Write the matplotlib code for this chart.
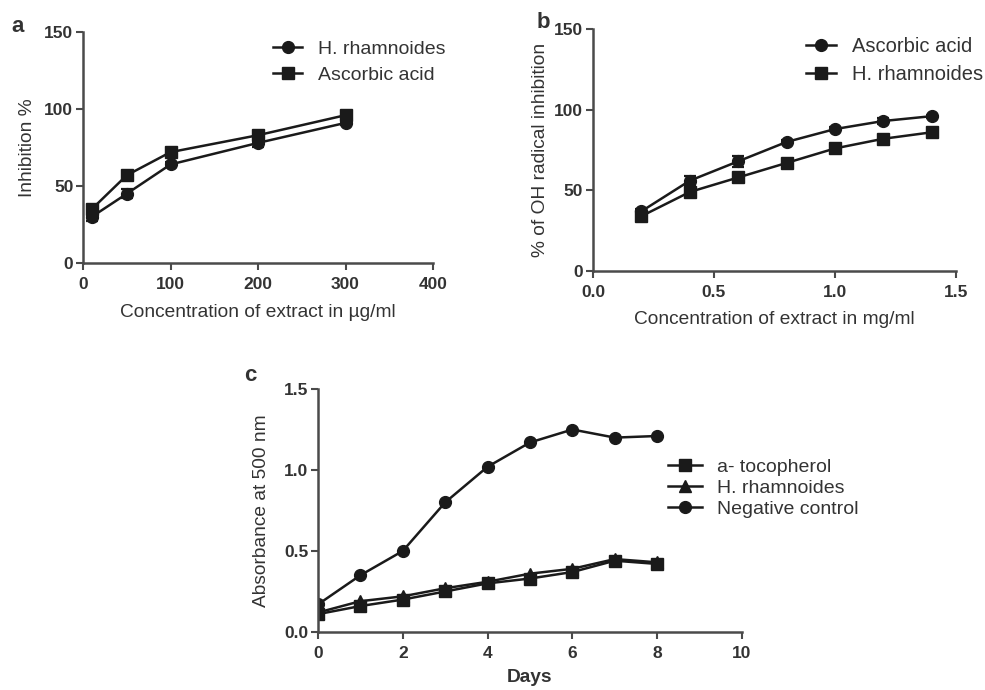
import matplotlib
matplotlib.use("Agg")
import matplotlib.pyplot as plt

plt.rcParams['font.family'] = ['Liberation Sans', 'DejaVu Sans']

# Panel a
a_conc = [10, 50, 100, 200, 300]
a_hr = [30, 45, 64, 78, 91]
a_hr_err = [3, 3, 1.5, 2.5, 1.5]
a_asc = [35, 57, 72, 83, 96]
a_asc_err = [2.5, 3, 2, 2.5, 2.5]

# Panel b
b_conc = [0.2, 0.4, 0.6, 0.8, 1.0, 1.2, 1.4]
b_asc = [37, 56, 68, 80, 88, 93, 96]
b_asc_err = [1.5, 3, 3.5, 1.5, 1, 2, 1]
b_hr = [34, 49, 58, 67, 76, 82, 86]
b_hr_err = [2, 2, 2, 1.5, 1.5, 1.5, 2.5]

# Panel c
c_days = [0, 1, 2, 3, 4, 5, 6, 7, 8]
c_toco = [0.11, 0.16, 0.20, 0.25, 0.30, 0.33, 0.37, 0.44, 0.42]
c_hr = [0.12, 0.19, 0.22, 0.27, 0.31, 0.36, 0.39, 0.45, 0.43]
c_neg = [0.17, 0.35, 0.50, 0.80, 1.02, 1.17, 1.25, 1.20, 1.21]

TXT = '#333333'
AX = '#4a4a4a'
LC = '#1a1a1a'
LBL = 13.8
TK = 12.5
LG = 14

fig = plt.figure(figsize=(9.85, 6.9), dpi=100)
fig.patch.set_facecolor('white')


def style(ax):
    for s in ['top', 'right']:
        ax.spines[s].set_visible(False)
    for s in ['left', 'bottom']:
        ax.spines[s].set_linewidth(1.8)
        ax.spines[s].set_color(AX)
    ax.tick_params(direction='out', length=5, width=1.5, color=AX,
                   labelsize=TK, labelcolor=TXT, pad=2)
    ax.tick_params(axis='x', pad=5)
    for lbl in ax.get_xticklabels() + ax.get_yticklabels():
        lbl.set_fontweight('bold')


kw = dict(color=LC, lw=1.8, ms=8.5, capsize=4, elinewidth=1.6, capthick=1.6)

# a
axa = fig.add_axes([0.0843, 0.6188, 0.3553, 0.3348])
e1 = axa.errorbar(a_conc, a_hr, yerr=a_hr_err, marker='o', label='H. rhamnoides', **kw)
e2 = axa.errorbar(a_conc, a_asc, yerr=a_asc_err, marker='s', label='Ascorbic acid', **kw)
axa.set_xlim(0, 400)
axa.set_ylim(0, 150)
axa.set_xticks([0, 100, 200, 300, 400])
axa.set_yticks([0, 50, 100, 150])
style(axa)
axa.set_xlabel('Concentration of extract in µg/ml', fontsize=LBL, color=TXT, labelpad=9)
axa.set_ylabel('Inhibition %', fontsize=LBL, color=TXT, labelpad=6)
axa.legend(handles=[e1[0], e2[0]], labels=['H. rhamnoides', 'Ascorbic acid'],
           loc='upper right', bbox_to_anchor=(1.085, 1.04), frameon=False,
           fontsize=LG, handlelength=1.5, handletextpad=0.8, labelspacing=0.45,
           labelcolor=TXT)
fig.text(0.012, 0.953, 'a', fontsize=16, fontweight='bold', color=TXT)

# b
axb = fig.add_axes([0.602, 0.6072, 0.3685, 0.3507])
f1 = axb.errorbar(b_conc, b_asc, yerr=b_asc_err, marker='o', label='Ascorbic acid', **kw)
f2 = axb.errorbar(b_conc, b_hr, yerr=b_hr_err, marker='s', label='H. rhamnoides', **kw)
axb.set_xlim(0, 1.5)
axb.set_ylim(0, 150)
axb.set_xticks([0.0, 0.5, 1.0, 1.5])
axb.set_xticklabels(['0.0', '0.5', '1.0', '1.5'])
axb.set_yticks([0, 50, 100, 150])
style(axb)
axb.set_xlabel('Concentration of extract in mg/ml', fontsize=LBL, color=TXT, labelpad=8)
axb.set_ylabel('% of OH radical inhibition', fontsize=LBL, color=TXT, labelpad=4)
axb.legend(handles=[f1[0], f2[0]], labels=['Ascorbic acid', 'H. rhamnoides'],
           loc='upper right', bbox_to_anchor=(1.125, 1.04), frameon=False,
           fontsize=14.5, handlelength=1.5, handletextpad=0.8, labelspacing=0.42,
           labelcolor=TXT)
fig.text(0.545, 0.96, 'b', fontsize=16, fontweight='bold', color=TXT)

# c
axc = fig.add_axes([0.3228, 0.0841, 0.4305, 0.3521])
axc.plot(c_days, c_toco, marker='s', color=LC, lw=1.8, ms=8.5, label='a- tocopherol')
axc.plot(c_days, c_hr, marker='^', color=LC, lw=1.8, ms=8.5, label='H. rhamnoides')
axc.plot(c_days, c_neg, marker='o', color=LC, lw=1.8, ms=8.5, label='Negative control')
axc.set_xlim(0, 10)
axc.set_ylim(0, 1.5)
axc.set_xticks([0, 2, 4, 6, 8, 10])
axc.set_yticks([0.0, 0.5, 1.0, 1.5])
axc.set_yticklabels(['0.0', '0.5', '1.0', '1.5'])
style(axc)
axc.set_xlabel('Days', fontsize=LBL, fontweight='bold', color=TXT, labelpad=6)
axc.set_ylabel('Absorbance at 500 nm', fontsize=LBL, color=TXT, labelpad=10)
axc.legend(loc='upper left', bbox_to_anchor=(0.784, 0.786), frameon=False,
           fontsize=LG, handlelength=1.75, handletextpad=0.8, labelspacing=0.16,
           labelcolor=TXT)
fig.text(0.248, 0.448, 'c', fontsize=16, fontweight='bold', color=TXT)

fig.savefig('out.png', dpi=100, facecolor='white')
